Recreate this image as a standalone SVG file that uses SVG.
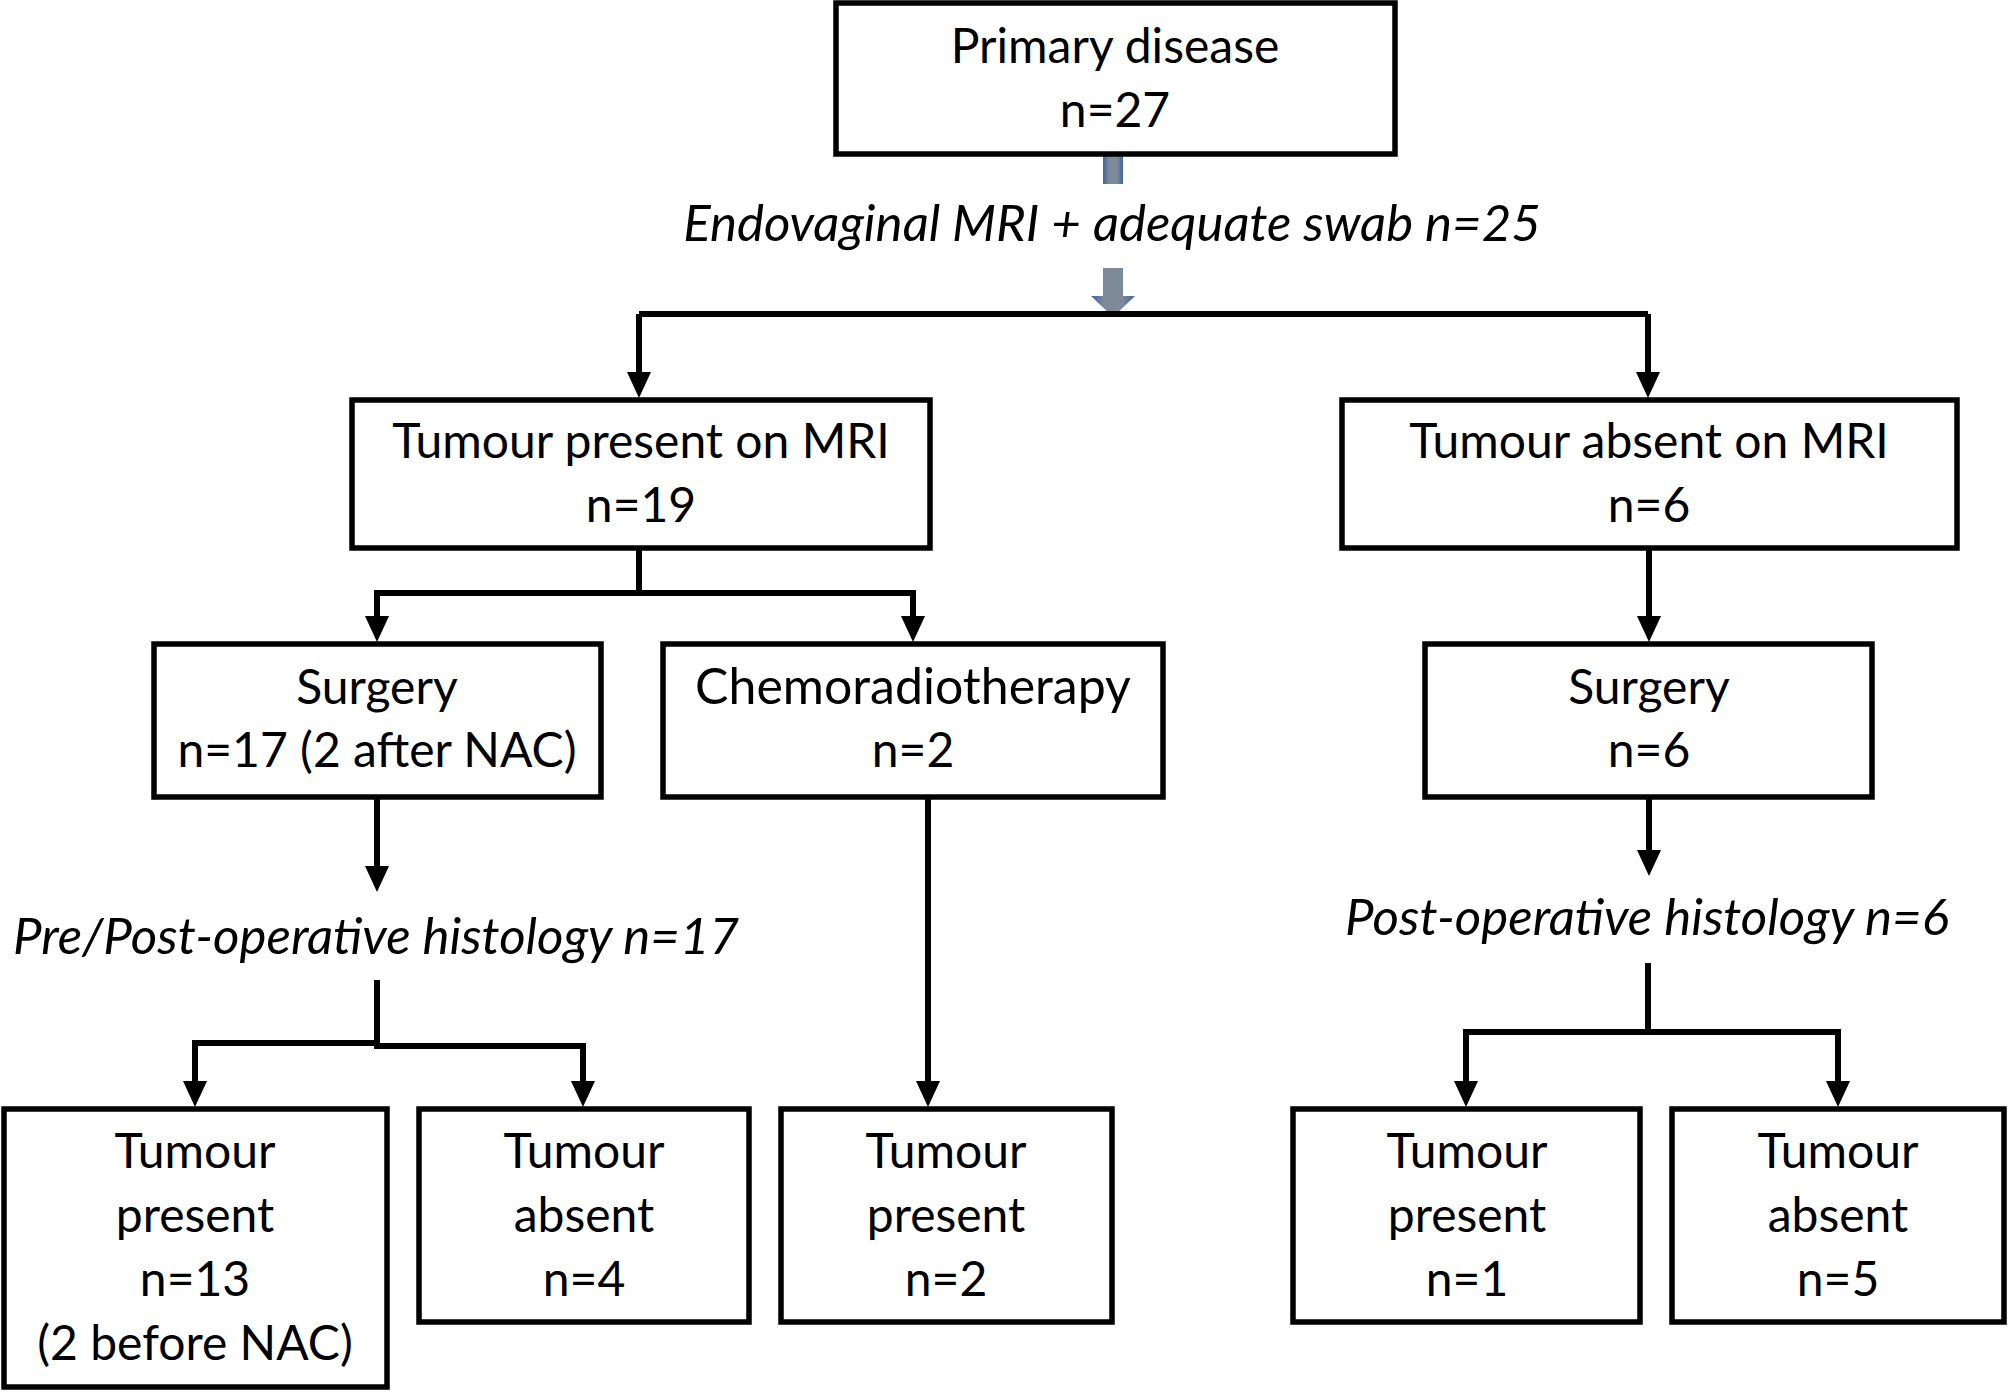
<svg xmlns="http://www.w3.org/2000/svg" width="2008" height="1392" viewBox="0 0 2008 1392">
<style>
.box{fill:#fff;stroke:#000;stroke-width:5.5}
.t{font-family:Lato,"Open Sans","Liberation Sans",sans-serif;font-size:48px;fill:#000;text-anchor:middle}
.i{font-family:Lato,"Open Sans","Liberation Sans",sans-serif;font-size:51px;font-style:italic;fill:#000;text-anchor:middle}
.c{fill:none;stroke:#000;stroke-width:6}
</style>
<defs>
<linearGradient id="bl" x1="0" x2="1" y1="0" y2="0">
<stop offset="0" stop-color="#3f65a0"/><stop offset="0.3" stop-color="#7f8a99"/><stop offset="0.7" stop-color="#7f8a99"/><stop offset="1" stop-color="#3f65a0"/>
</linearGradient>
</defs>
<rect width="2008" height="1392" fill="#fff"/>
<g id="connectors">
<rect x="1103" y="152" width="20" height="32" fill="url(#bl)"/>
<path d="M1103,268 H1123 V296 H1135 L1113,317 L1091,296 H1103 Z" fill="url(#bl)"/>
<path class="c" d="M639,314 H1648"/>
<path class="c" d="M639,314 V372"/>
<polygon points="627,372 651,372 639,398"/>
<path class="c" d="M1648,314 V372"/>
<polygon points="1636,372 1660,372 1648,398"/>
<path class="c" d="M639,548 V593 M377,593 H913"/>
<path class="c" d="M377,590 V616 M913,590 V616"/>
<polygon points="365,616 389,616 377,642"/>
<polygon points="901,616 925,616 913,642"/>
<path class="c" d="M1649,548 V616"/>
<polygon points="1637,616 1661,616 1649,642"/>
<path class="c" d="M377,797 V866"/>
<polygon points="365,866 389,866 377,892"/>
<path class="c" d="M377,980 V1046 H583 V1081"/>
<path class="c" d="M374,1043 H195 V1081"/>
<polygon points="183,1081 207,1081 195,1107"/>
<polygon points="571,1081 595,1081 583,1107"/>
<path class="c" d="M928,797 V1081"/>
<polygon points="916,1081 940,1081 928,1107"/>
<path class="c" d="M1649,797 V850"/>
<polygon points="1637,850 1661,850 1649,876"/>
<path class="c" d="M1648,963 V1032 M1466,1032 H1838 M1466,1029 V1081 M1838,1029 V1081"/>
<polygon points="1454,1081 1478,1081 1466,1107"/>
<polygon points="1826,1081 1850,1081 1838,1107"/>
</g>
<g id="primary"><rect class="box" x="836" y="3" width="559" height="151"/><text class="t" x="1115" y="63">Primary disease</text><text class="t" x="1115" y="127">n=27</text></g>
<g id="label-mri"><text class="i" x="1112" y="241">Endovaginal MRI + adequate swab n=25</text></g>
<g id="tumour-present-mri"><rect class="box" x="352" y="400" width="578" height="148"/><text class="t" x="641" y="458">Tumour present on MRI</text><text class="t" x="641" y="522">n=19</text></g>
<g id="tumour-absent-mri"><rect class="box" x="1342" y="400" width="615" height="148"/><text class="t" x="1649" y="458">Tumour absent on MRI</text><text class="t" x="1649" y="522">n=6</text></g>
<g id="surgery-left"><rect class="box" x="154" y="644" width="447" height="153"/><text class="t" x="377" y="704">Surgery</text><text class="t" x="377" y="767">n=17 (2 after NAC)</text></g>
<g id="chemo"><rect class="box" x="663" y="644" width="500" height="153"/><text class="t" x="913" y="704" style="font-size:50px">Chemoradiotherapy</text><text class="t" x="913" y="767">n=2</text></g>
<g id="surgery-right"><rect class="box" x="1425" y="644" width="447" height="153"/><text class="t" x="1649" y="704">Surgery</text><text class="t" x="1649" y="767">n=6</text></g>
<g id="label-preop"><text class="i" x="376" y="954">Pre/Post-operative histology n=17</text></g>
<g id="label-postop"><text class="i" x="1647" y="935">Post-operative histology n=6</text></g>
<g id="tp1"><rect class="box" x="4" y="1109" width="383" height="278"/><text class="t" x="195" y="1168">Tumour</text><text class="t" x="195" y="1232">present</text><text class="t" x="195" y="1296">n=13</text><text class="t" x="195" y="1360">(2 before NAC)</text></g>
<g id="ta1"><rect class="box" x="419" y="1109" width="330" height="213"/><text class="t" x="584" y="1168">Tumour</text><text class="t" x="584" y="1232">absent</text><text class="t" x="584" y="1296">n=4</text></g>
<g id="tp2"><rect class="box" x="781" y="1109" width="331" height="213"/><text class="t" x="946" y="1168">Tumour</text><text class="t" x="946" y="1232">present</text><text class="t" x="946" y="1296">n=2</text></g>
<g id="tp3"><rect class="box" x="1293" y="1109" width="347" height="213"/><text class="t" x="1467" y="1168">Tumour</text><text class="t" x="1467" y="1232">present</text><text class="t" x="1467" y="1296">n=1</text></g>
<g id="ta3"><rect class="box" x="1672" y="1109" width="332" height="213"/><text class="t" x="1838" y="1168">Tumour</text><text class="t" x="1838" y="1232">absent</text><text class="t" x="1838" y="1296">n=5</text></g>
</svg>
